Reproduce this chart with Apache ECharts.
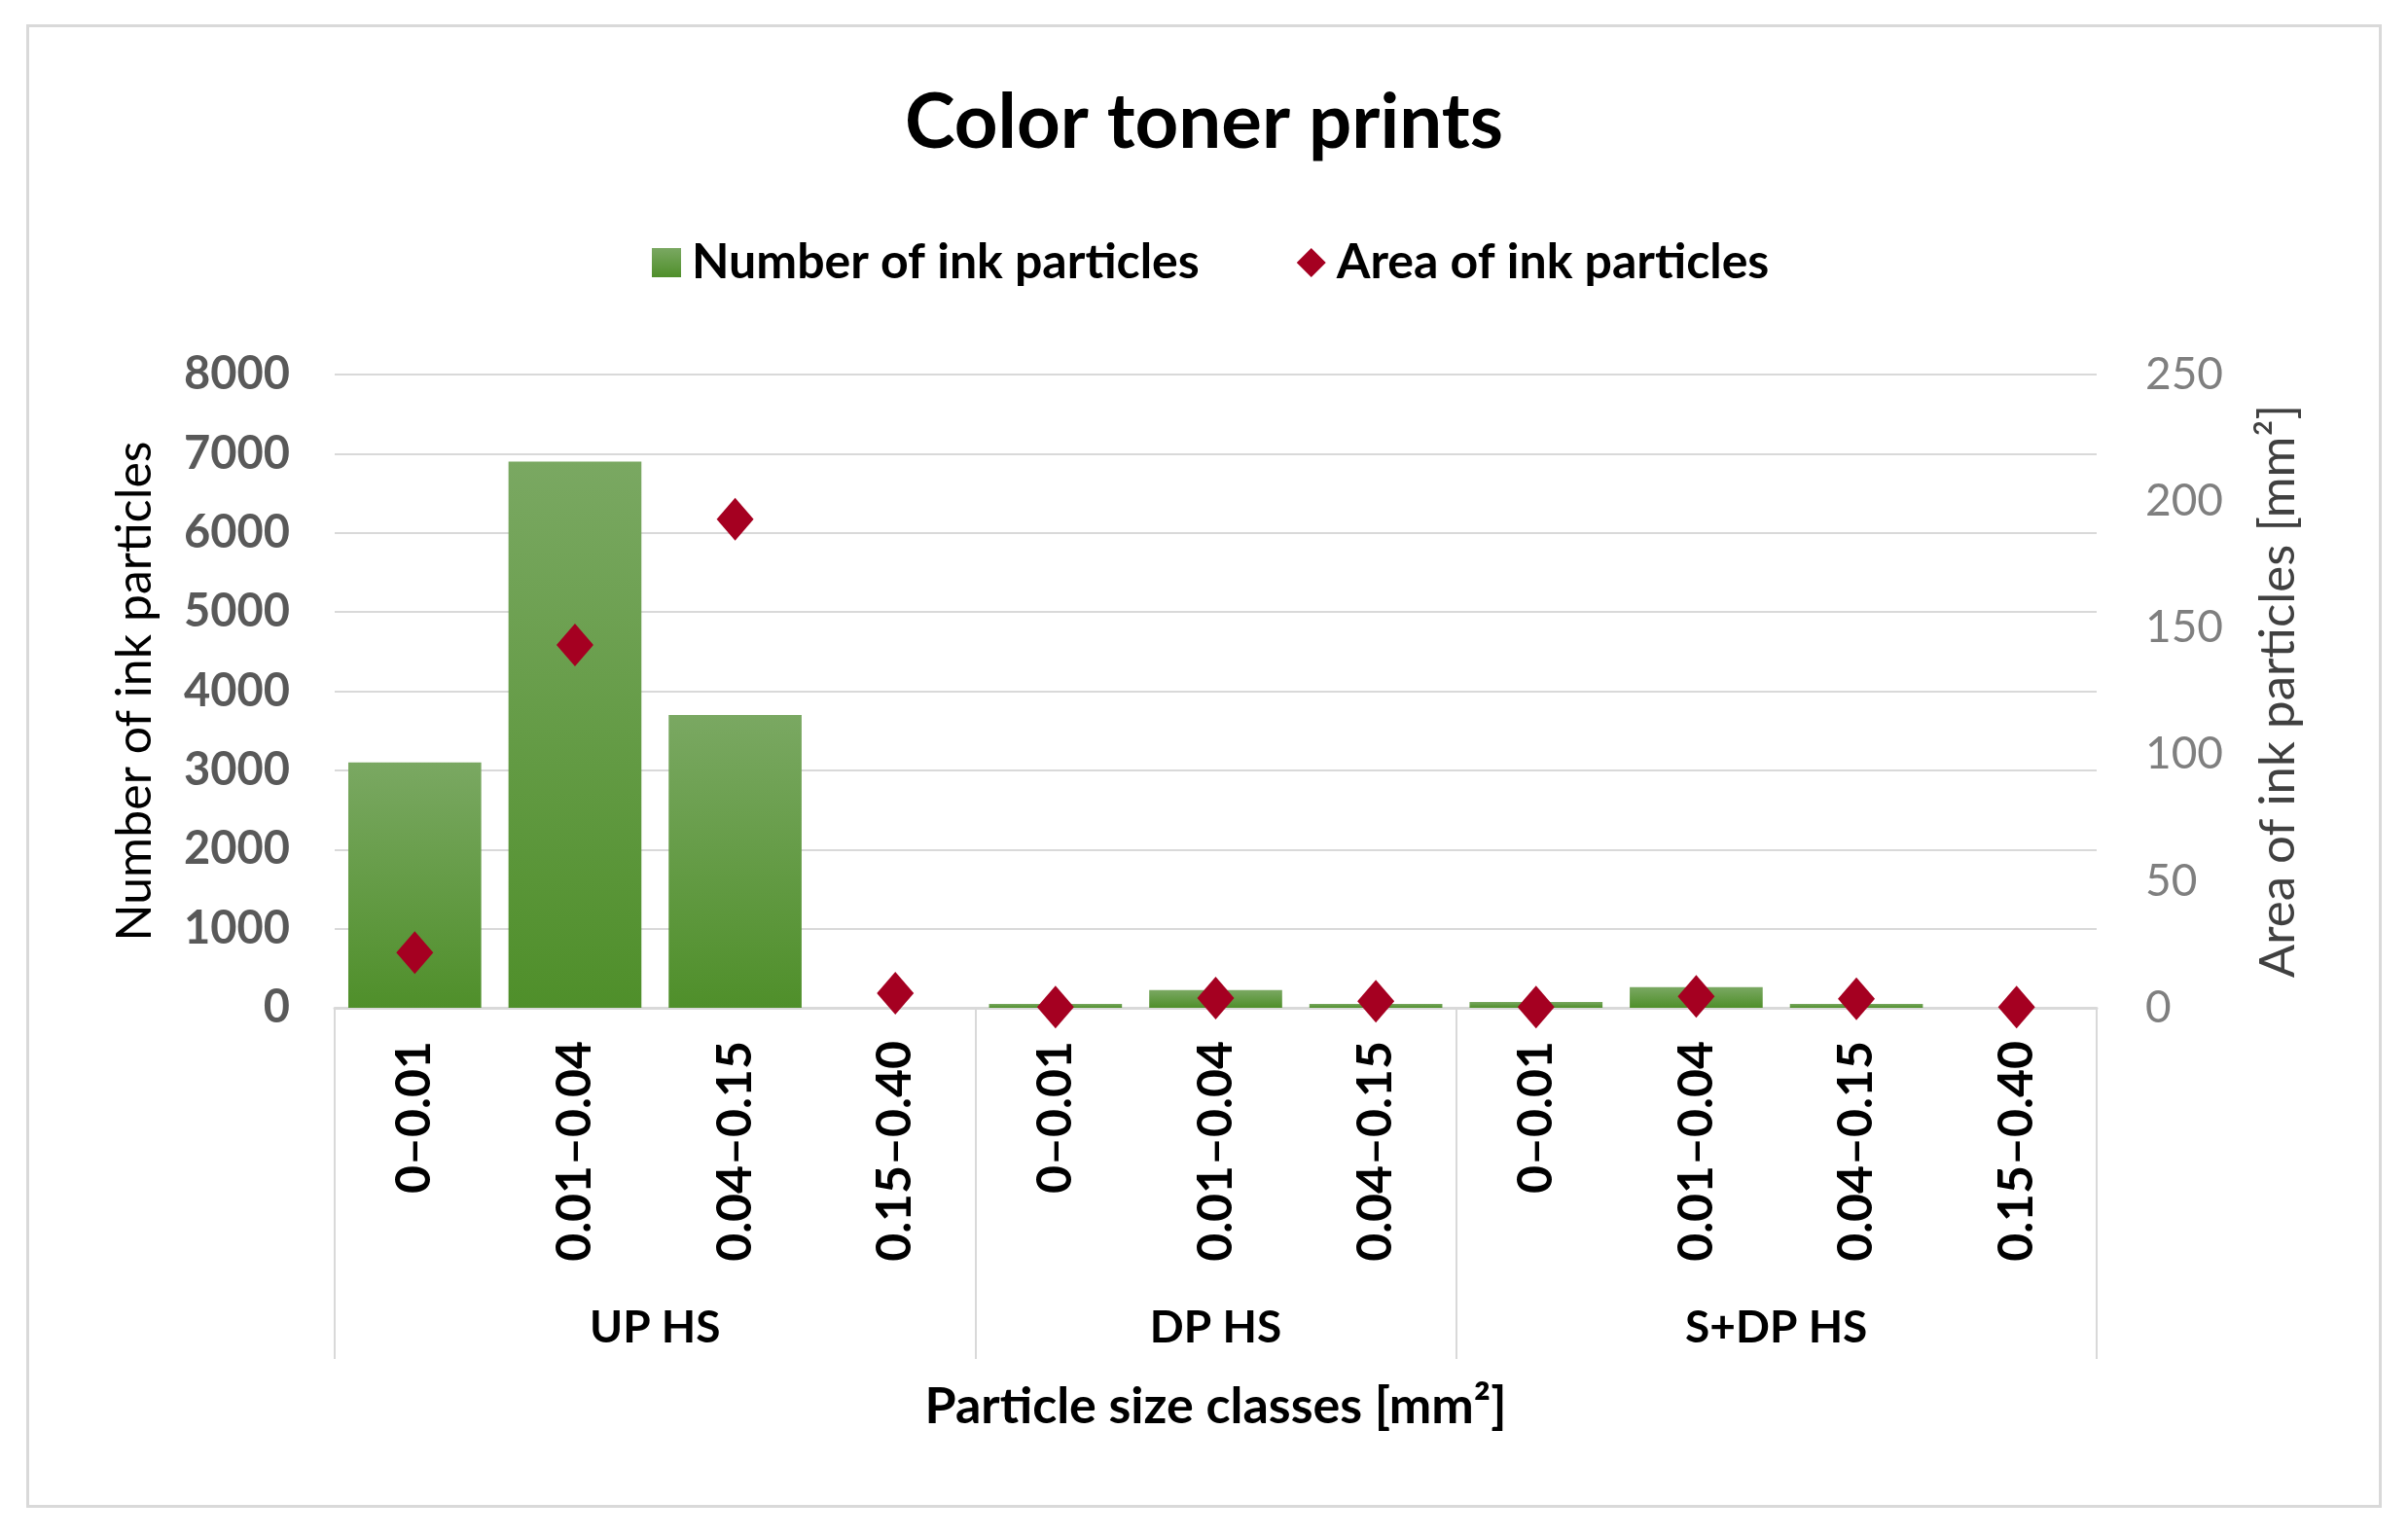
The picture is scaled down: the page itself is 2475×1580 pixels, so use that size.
<!DOCTYPE html>
<html><head><meta charset="utf-8">
<script src="https://cdn.jsdelivr.net/npm/echarts@6/dist/echarts.min.js"></script>
<style>
html,body{margin:0;padding:0;background:#fff;}
#c{position:absolute;left:0;top:0;width:2475px;height:1580px;}
#frame{position:absolute;left:27px;top:25px;width:2415px;height:1519px;border:3px solid #d9d9d9;pointer-events:none;}
</style>
</head><body><div id="c"></div><div id="frame"></div>
<script>
// ---- data ----
const groups = ['UP HS', 'DP HS', 'S+DP HS'];
const groupClasses = [
  ['0–0.01', '0.01–0.04', '0.04–0.15', '0.15–0.40'],
  ['0–0.01', '0.01–0.04', '0.04–0.15'],
  ['0–0.01', '0.01–0.04', '0.04–0.15', '0.15–0.40']
];
const particleCounts = [3100, 6900, 3700, 0, 50, 225, 50, 75, 260, 50, 0];
const particleAreas = [21.8, 143.2, 192.9, 5.8, 0.3, 3.8, 2.6, 0.3, 4.5, 3.6, 0.3];
const countAxisTicks = [0, 1000, 2000, 3000, 4000, 5000, 6000, 7000, 8000];
const areaAxisTicks = [0, 50, 100, 150, 200, 250];

// ---- derived ----
const categories = groupClasses.flat();
const boundaries = [0];
groupClasses.forEach(g => boundaries.push(boundaries[boundaries.length - 1] + g.length));
const centers = groups.map((g, i) => (boundaries[i] + boundaries[i + 1]) / 2);
const FONT = 'Lato';

const chart = echarts.init(document.getElementById('c'), null, {renderer: 'canvas'});
chart.setOption({
  animation: false,
  backgroundColor: 'transparent',
  textStyle: {fontFamily: FONT},
  title: {
    text: 'Color toner prints', left: 'center', top: 83,
    textStyle: {fontFamily: FONT, fontSize: 78, fontWeight: 'bold', color: '#000'}
  },
  legend: {
    left: 665, top: 240,
    itemWidth: 30, itemHeight: 30, itemGap: 100,
    textStyle: {fontFamily: FONT, fontSize: 50, fontWeight: 'bold', color: '#000', padding: [0, 0, 0, 6]},
    data: [{name: 'Number of ink particles', icon: 'rect'}, {name: 'Area of ink particles', icon: 'diamond'}]
  },
  grid: {left: 344, right: 320, top: 385, bottom: 544, containLabel: false, outerBoundsMode: 'none'},
  xAxis: [
    {
      type: 'category', data: categories, position: 'bottom',
      axisLine: {show: true, lineStyle: {color: '#d9d9d9', width: 3}},
      axisTick: {show: false},
      axisLabel: {interval: 0, rotate: 90, margin: 34, fontFamily: FONT, fontSize: 50, fontWeight: 'bold', color: '#000'},
      splitLine: {show: false}
    },
    {
      type: 'value', min: boundaries[0], max: boundaries[boundaries.length - 1], position: 'bottom',
      axisLine: {show: false},
      splitLine: {show: false},
      axisTick: {show: true, customValues: boundaries, length: 361, lineStyle: {color: '#d9d9d9', width: 2}},
      axisLabel: {
        customValues: centers, margin: 306, fontFamily: FONT, fontSize: 46, fontWeight: 'bold', color: '#000',
        formatter: v => { const i = centers.indexOf(v); return i >= 0 ? groups[i] : ''; }
      },
      name: 'Particle size classes [mm²]', nameLocation: 'middle', nameGap: 384,
      nameTextStyle: {fontFamily: FONT, fontSize: 52, fontWeight: 'bold', color: '#000'}
    }
  ],
  yAxis: [
    {
      type: 'value', position: 'left',
      min: countAxisTicks[0], max: countAxisTicks[countAxisTicks.length - 1], interval: countAxisTicks[1] - countAxisTicks[0],
      axisLine: {show: false}, axisTick: {show: false},
      axisLabel: {margin: 46, fontFamily: FONT, fontSize: 47, fontWeight: 'bold', color: '#595959', formatter: v => String(v)},
      splitLine: {show: true, lineStyle: {color: '#d9d9d9', width: 2}},
      name: 'Number of ink particles', nameLocation: 'middle', nameGap: 180,
      nameTextStyle: {fontFamily: FONT, fontSize: 50, color: '#000'}
    },
    {
      type: 'value', position: 'right',
      min: areaAxisTicks[0], max: areaAxisTicks[areaAxisTicks.length - 1], interval: areaAxisTicks[1] - areaAxisTicks[0],
      axisLine: {show: false}, axisTick: {show: false},
      axisLabel: {margin: 50, fontFamily: FONT, fontSize: 46, color: '#7f7f7f', formatter: v => String(v)},
      splitLine: {show: false},
      name: 'Area of ink particles [mm²]', nameLocation: 'middle', nameGap: 161,
      nameTextStyle: {fontFamily: FONT, fontSize: 51, color: '#404040'}
    }
  ],
  series: [
    {
      name: 'Number of ink particles', type: 'bar', xAxisIndex: 0, yAxisIndex: 0,
      data: particleCounts, barCategoryGap: '17%',
      itemStyle: {
        opacity: 1,
        color: new echarts.graphic.LinearGradient(0, 0, 0, 1, [
          {offset: 0, color: '#7aa862'}, {offset: 1, color: '#4f8f2a'}
        ])
      }
    },
    {
      name: 'Area of ink particles', type: 'scatter', xAxisIndex: 0, yAxisIndex: 1,
      data: particleAreas, symbol: 'diamond', symbolSize: [38, 44],
      itemStyle: {color: '#a50021', opacity: 1}, z: 5
    }
  ]
});
</script>
</body></html>
